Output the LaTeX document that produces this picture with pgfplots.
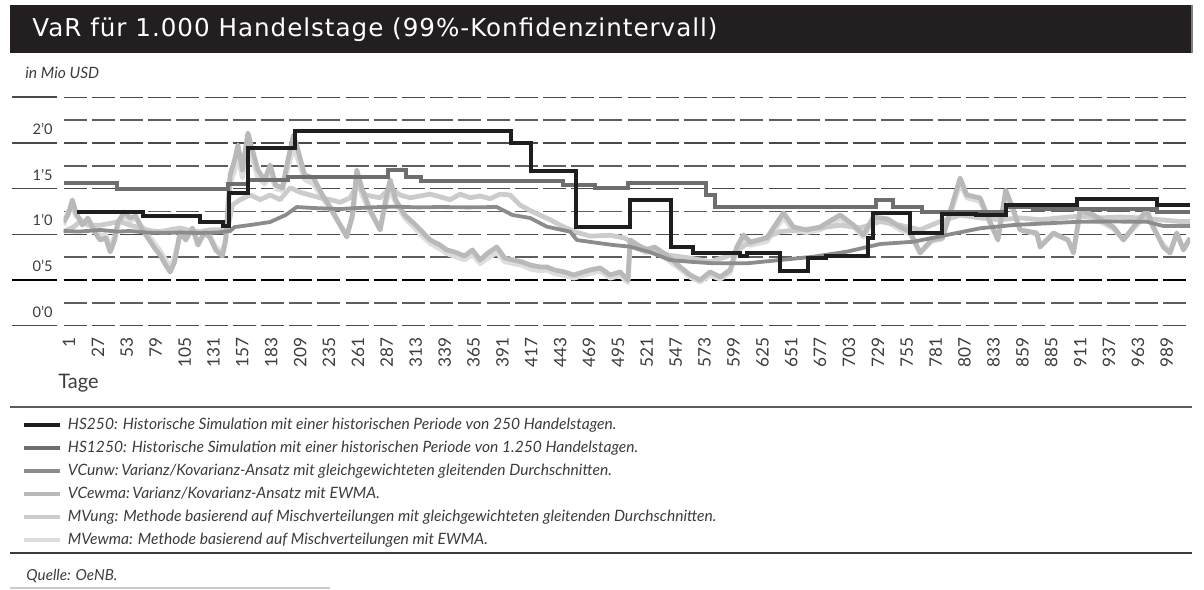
\documentclass[border=0pt]{standalone}
\usepackage{fontspec}
\setmainfont{Lato}
\newfontfamily\titlefont[LetterSpace=4]{DejaVu Sans}
\usepackage{pgfplots}
\pgfplotsset{compat=1.18}
\definecolor{bar}{HTML}{231F20}
\definecolor{gridc}{HTML}{4A4A4A}
\definecolor{gridm}{HTML}{5E5E5E}
\definecolor{txt}{HTML}{3C3C3C}
\definecolor{cHSa}{HTML}{1E1E1E}
\definecolor{cHSb}{HTML}{6E6E6E}
\definecolor{cVCu}{HTML}{8C8C8C}
\definecolor{cVCe}{HTML}{B9B9B9}
\definecolor{cMVu}{HTML}{CCCCCC}
\definecolor{cMVe}{HTML}{DDDDDD}
\begin{document}
\begin{tikzpicture}
\useasboundingbox (0,0) rectangle (602pt,294.5pt);
\fill[bar] (5pt,268pt) rectangle (596pt,292pt);
\draw[gray, line width=0.6pt] (596pt,268pt) -- (596pt,292pt);
\node[anchor=base west, inner sep=0pt, text=white, font=\titlefont\fontsize{12.3pt}{14pt}\selectfont] at (16pt,276.2pt) {VaR für 1.000 Handelstage (99\%-Konfidenzintervall)};
\node[anchor=base west, inner sep=0pt, text=txt, font=\itshape\fontsize{7.8pt}{9pt}\selectfont] at (12.5pt,255.3pt) {in Mio USD};
\begin{axis}[
 at={(31.75pt,131.65pt)}, anchor=south west,
 scale only axis, width=563.3pt, height=114.2pt,
 xmin=-4, xmax=1010, ymin=0, ymax=2.5,
 axis line style={draw=none}, tick style={draw=none}, major tick length=0pt, minor tick length=0pt,
 xtick={1,27,...,989},
 ytick={0,0.5,...,2.5}, minor ytick={0.25,0.75,...,2.25},
 yticklabels={0'0,0'5,1'0,1'5,2'0,{}},
 ymajorgrids, yminorgrids,
 major grid style={draw=gridc, line width=0.8pt, dash pattern=on 11.5pt off 2.6pt},
 minor grid style={draw=gridm, line width=0.8pt, dash pattern=on 11.5pt off 2.6pt},
 extra y ticks={0.5}, extra y tick labels={},
 extra y tick style={ymajorgrids=true, major grid style={draw=black, line width=0.9pt, dash pattern=on 11.5pt off 2.6pt}},
 xticklabel style={yshift=-5.65pt, rotate=90, anchor=east, inner sep=0pt, font=\fontsize{8.6pt}{10pt}\selectfont, text=txt},
 yticklabel style={anchor=south east, inner sep=0pt, xshift=-5.25pt, yshift=4pt, font=\fontsize{7.3pt}{8pt}\selectfont, text=txt},
 /pgf/number format/assume math mode=true,
 xlabel={Tage},
 xlabel style={at={(axis description cs:-0.00488,-0.2771)}, anchor=base west, inner sep=0pt, font=\fontsize{10pt}{12pt}\selectfont, text=txt},
 legend style={at={(axis description cs:-0.0369,-0.40324)}, anchor=north west, draw=none, fill=none, inner sep=0pt, outer sep=0pt, row sep=4.3pt, column sep=3pt,
   nodes={inner sep=0pt, text height=5.6pt, text depth=1.6pt, font=\itshape\fontsize{7.8pt}{9pt}\selectfont, text=txt}},
 legend cell align=left,
 reverse legend,
 legend image code/.code={\draw[#1, line width=2pt, line cap=butt] (0pt,0pt) -- (18pt,0pt);},
]
% MVewma
\addplot[cMVe, line width=2.4pt, line join=round] coordinates {
(-4,1.10)(0,1.25)(4,1.30)(7,1.20)(13,1.15)(18,1.10)(24,1.08)(29,0.98)(34,1.00)(38,0.86)(42,0.98)(45,1.10)(51,1.20)(56,1.15)(61,1.17)(67,1.08)(72,1.00)(78,0.90)(83,0.82)(88,0.72)(92,0.64)(96,0.75)(101,1.00)(106,0.98)(112,1.05)(117,0.92)(123,1.00)(128,0.98)(133,0.86)(139,0.80)(142,0.95)(146,1.55)(150,1.70)(153,1.85)(157,1.62)(162,1.95)(166,1.82)(171,1.62)(177,1.55)(182,1.68)(187,1.50)(193,1.48)(198,1.72)(203,1.95)(207,1.82)(213,1.60)(221,1.55)(229,1.40)(236,1.28)(245,1.10)(251,1.00)(256,1.18)(260,1.60)(265,1.42)(272,1.24)(281,1.06)(285,1.28)(290,1.50)(295,1.34)(303,1.18)(311,1.08)(319,0.98)(326,0.90)(335,0.84)(341,0.79)(348,0.76)(357,0.72)(364,0.78)(371,0.68)(378,0.74)(386,0.80)(393,0.70)(401,0.68)(409,0.66)(416,0.62)(425,0.60)(431,0.61)(438,0.57)(447,0.55)(455,0.52)(461,0.54)(470,0.57)(479,0.60)(488,0.52)(497,0.55)(504,0.47)(506,0.88)(513,0.84)(520,0.80)(528,0.82)(536,0.76)(542,0.70)(551,0.62)(560,0.53)(569,0.48)(578,0.55)(587,0.51)(596,0.58)(602,0.82)(608,0.95)(614,0.88)(629,0.92)(644,1.18)(653,1.04)(665,1.02)(677,1.05)(695,1.17)(707,1.08)(716,0.97)(725,1.15)(738,1.13)(749,1.05)(758,1.00)(767,0.80)(777,0.92)(787,0.95)(803,1.55)(809,1.40)(821,1.36)(828,1.17)(837,0.95)(844,1.42)(851,1.24)(857,1.05)(872,1.00)(875,0.88)(887,1.00)(900,0.94)(905,0.82)(911,1.22)(923,1.18)(941,1.06)(950,0.94)(959,1.06)(971,1.22)(977,1.06)(986,0.88)(992,0.82)(998,1.00)(1004,0.84)(1010,0.95)
};
\addlegendentry{MVewma: Methode basierend auf Mischverteilungen mit EWMA.}
% MVung
\addplot[cMVu, line width=2.4pt, line join=round] coordinates {
(-4,1.03)(5,1.08)(11,1.14)(20,1.10)(29,1.10)(38,1.12)(47,1.14)(56,1.10)(65,1.07)(74,1.04)(83,1.03)(92,1.05)(101,1.07)(110,1.04)(119,1.03)(128,1.05)(137,1.05)(144,1.07)(148,1.32)(155,1.38)(164,1.43)(173,1.38)(182,1.43)(191,1.38)(200,1.51)(209,1.46)(218,1.43)(227,1.40)(236,1.38)(245,1.35)(254,1.40)(260,1.54)(268,1.43)(281,1.40)(290,1.51)(299,1.43)(308,1.40)(317,1.42)(326,1.44)(335,1.41)(344,1.38)(353,1.44)(362,1.40)(371,1.42)(380,1.39)(389,1.44)(398,1.43)(407,1.32)(416,1.26)(425,1.21)(434,1.16)(443,1.10)(456,1.03)(470,0.98)(488,0.99)(501,0.96)(511,0.88)(524,0.83)(542,0.77)(560,0.74)(578,0.70)(596,0.77)(609,0.88)(623,0.94)(641,1.03)(659,1.05)(677,1.07)(695,1.10)(713,1.07)(731,1.14)(749,1.10)(767,1.05)(785,1.14)(803,1.21)(821,1.18)(839,1.16)(857,1.18)(875,1.16)(893,1.18)(911,1.20)(929,1.18)(947,1.19)(965,1.18)(983,1.16)(1001,1.14)(1010,1.14)
};
\addlegendentry{MVung: Methode basierend auf Mischverteilungen mit gleichgewichteten gleitenden Durchschnitten.}
% VCewma
\addplot[cVCe, line width=2.4pt, line join=round] coordinates {
(-4,1.135)(0,1.212)(4,1.376)(7,1.245)(13,1.102)(18,1.179)(24,1.026)(29,0.938)(34,0.960)(38,0.807)(42,0.938)(45,1.135)(51,1.245)(56,1.179)(61,1.201)(67,1.048)(72,0.960)(78,0.850)(83,0.774)(88,0.664)(92,0.588)(96,0.697)(101,1.026)(106,0.938)(112,1.069)(117,0.883)(123,1.026)(128,0.960)(133,0.829)(139,0.763)(142,0.938)(146,1.650)(150,1.814)(153,1.978)(157,1.704)(162,2.109)(166,1.923)(171,1.704)(177,1.595)(182,1.759)(187,1.540)(193,1.507)(198,1.814)(203,2.087)(207,1.923)(213,1.650)(221,1.617)(229,1.431)(236,1.299)(245,1.102)(251,0.971)(256,1.212)(260,1.704)(265,1.485)(272,1.266)(281,1.048)(285,1.321)(290,1.595)(295,1.376)(303,1.212)(311,1.124)(319,1.026)(326,0.938)(335,0.883)(341,0.829)(348,0.807)(357,0.763)(364,0.829)(371,0.719)(378,0.796)(386,0.861)(393,0.741)(401,0.719)(409,0.697)(416,0.664)(425,0.643)(431,0.643)(438,0.610)(447,0.588)(455,0.555)(461,0.577)(470,0.610)(479,0.632)(488,0.555)(497,0.588)(504,0.500)(506,0.938)(513,0.883)(520,0.829)(528,0.861)(536,0.796)(542,0.741)(551,0.643)(560,0.555)(569,0.500)(578,0.588)(587,0.533)(596,0.610)(602,0.861)(608,0.993)(614,0.916)(629,0.960)(644,1.234)(653,1.080)(665,1.048)(677,1.080)(695,1.212)(707,1.102)(716,0.993)(725,1.190)(738,1.168)(749,1.080)(758,1.026)(767,0.796)(777,0.938)(787,0.960)(803,1.617)(809,1.431)(821,1.398)(828,1.190)(837,0.938)(844,1.485)(851,1.266)(857,1.048)(872,1.015)(875,0.861)(887,1.015)(900,0.938)(905,0.796)(911,1.266)(923,1.212)(941,1.080)(950,0.938)(959,1.080)(971,1.266)(977,1.080)(986,0.861)(992,0.796)(998,1.015)(1004,0.829)(1010,0.960)
};
\addlegendentry{VCewma:\,Varianz/Kovarianz-Ansatz mit EWMA.}
% VCunw
\addplot[cVCu, line width=1.9pt, line join=round] coordinates {
(-4,1.037)(10,1.03)(29,1.048)(45,1.03)(56,1.037)(70,1.02)(87,1.015)(100,1.02)(119,1.015)(135,1.02)(146,1.037)(150,1.080)(164,1.102)(182,1.135)(196,1.212)(206,1.299)(221,1.288)(245,1.277)(260,1.288)(281,1.299)(296,1.303)(315,1.295)(335,1.299)(360,1.295)(386,1.299)(400,1.212)(416,1.179)(431,1.084)(452,1.029)(458,0.938)(479,0.902)(491,0.883)(506,0.865)(525,0.80)(542,0.719)(560,0.70)(581,0.683)(611,0.683)(641,0.719)(671,0.755)(701,0.810)(731,0.894)(761,0.919)(791,0.993)(821,1.066)(851,1.102)(880,1.12)(911,1.138)(940,1.14)(971,1.138)(986,1.091)(1010,1.091)
};
\addlegendentry{VCunw:\,Varianz/Kovarianz-Ansatz mit gleichgewichteten gleitenden Durchschnitten.}
% HS1250
\addplot[cHSb, line width=2pt, const plot mark left] coordinates {
(-4,1.559)(44,1.493)(144,1.548)(162,1.595)(198,1.631)(288,1.704)(304,1.631)(318,1.587)(446,1.540)(474,1.504)(504,1.565)(574,1.430)(582,1.303)(727,1.376)(743,1.303)(769,1.248)(844,1.296)(869,1.272)(980,1.250)(1010,1.250)
};
\addlegendentry{HS1250: Historische Simulation mit einer historischen Periode von 1.250 Handelstagen.}
% HS250
\addplot[cHSa, line width=2pt, const plot mark left] coordinates {
(8,1.244)(68,1.200)(119,1.138)(140,1.095)(145,1.449)(162,1.945)(204,2.134)(399,1.996)(417,1.697)(457,1.077)(506,1.376)(543,0.865)(563,0.799)(605,0.766)(611,0.796)(641,0.602)(666,0.738)(682,0.766)(720,0.960)(725,1.230)(758,1.011)(787,1.223)(817,1.212)(844,1.321)(908,1.387)(980,1.321)(1010,1.321)
};
\addlegendentry{HS250: Historische Simulation mit einer historischen Periode von 250 Handelstagen.}
\end{axis}
\foreach \yy in {131.65,177.33,200.17,223.01,245.85} \draw[gridc, line width=0.8pt] (6pt,\yy pt) -- (28.5pt,\yy pt);
\draw[black, line width=0.9pt] (6pt,154.49pt) -- (28.5pt,154.49pt);
\draw[gridm, line width=0.6pt] (5pt,91pt) -- (596pt,91pt);
\draw[txt, line width=0.6pt] (5pt,18pt) -- (596pt,18pt);
\node[anchor=base west, inner sep=0pt, text=txt, font=\itshape\fontsize{7.6pt}{8.6pt}\selectfont] at (13pt,4.5pt) {Quelle: OeNB.};
\draw[black!20, line width=0.8pt] (5pt,0.5pt) -- (165pt,0.5pt);
\end{tikzpicture}
\end{document}
